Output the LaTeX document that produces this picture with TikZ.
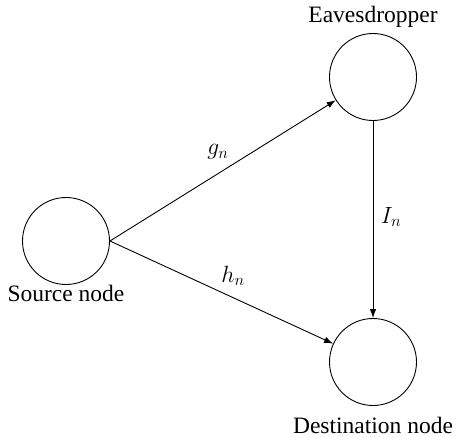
\RequirePackage{fix-cm}
\documentclass[tikz,border=0pt]{standalone}
\usepackage{fontspec}
\setmainfont{Liberation Serif}
\newfontfamily\capfont{Liberation Serif}
\usetikzlibrary{arrows.meta}
\begin{document}
\begin{tikzpicture}[x=1pt,y=-1pt,
  every node/.style={font=\fontsize{23.5}{28}\selectfont},
  station/.style={circle,draw,line width=0.9pt,minimum size=87pt,inner sep=0pt},
  link/.style={line width=0.9pt,-{Latex[length=9pt,width=6.5pt]}},
  caption/.style={anchor=base,inner sep=0pt,font=\capfont\fontsize{23.5}{28}\selectfont}]
\useasboundingbox (0,0) rectangle (457,438);
\node[station] (src) at (66,241) {};
\node[station] (eav) at (373,77) {};
\node[station] (dst) at (373,362) {};
\node[caption] (srcl) at (66,301) {Source node};
\node[caption] (eavl) at (373,23) {Eavesdropper};
\node[caption] (dstl) at (373,433) {Destination node};
\draw[link] (src.east) -- (eav);
\draw[link] (src.east) -- (dst);
\draw[link] (eav) -- (dst);
\node (g) at (218,152) {$g_n$};
\node (h) at (233,276) {$h_n$};
\node (i) at (391,217) {$I_n$};
\end{tikzpicture}
\end{document}
